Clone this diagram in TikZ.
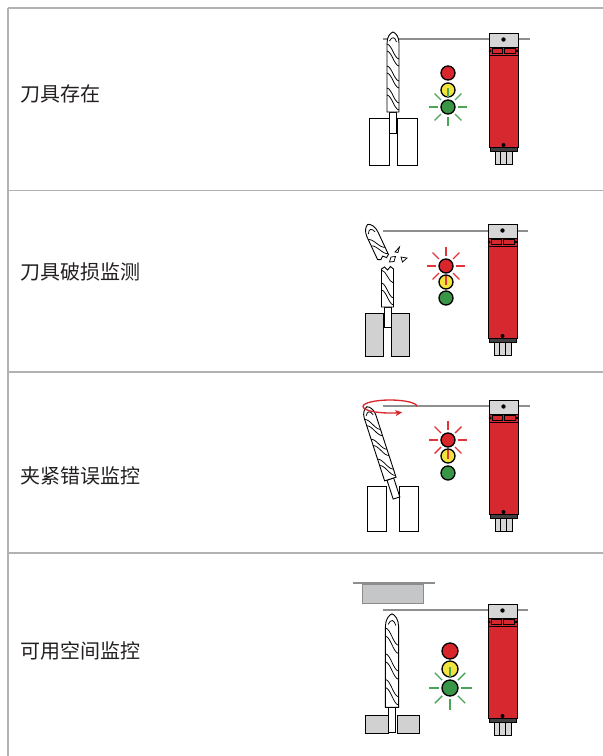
\documentclass[tikz,border=0pt]{standalone}
\usepackage{fontspec}
\newfontfamily\cjk{Noto Sans CJK SC}
\usetikzlibrary{arrows.meta}

\definecolor{ruleGray}{HTML}{B2B2B2}
\definecolor{railGray}{HTML}{8E8E8E}
\definecolor{capGray}{HTML}{D6D6D6}
\definecolor{blockGray}{HTML}{D1D1D1}
\definecolor{plateGray}{HTML}{C4C6C8}
\definecolor{bodyRed}{HTML}{D7282F}
\definecolor{lampRed}{HTML}{D8262C}
\definecolor{lampYellow}{HTML}{F3E43C}
\definecolor{lampGreen}{HTML}{3A9647}
\definecolor{glowGreen}{HTML}{4AA656}
\definecolor{glowRed}{HTML}{E2343B}
\definecolor{textDark}{HTML}{231F20}

\tikzset{
  rule/.style={draw=ruleGray, line width=1.6pt},
  rail/.style={draw=railGray, line width=1.3pt},
  edge/.style={draw=black, line width=0.9pt},
  fine/.style={draw=black, line width=0.75pt},
  rowlabel/.style={anchor=west, inner sep=0pt, text=textDark,
    font=\cjk\fontsize{20}{24}\selectfont},
  lamp/.style={circle, draw=black, line width=1.3pt, minimum size=#1, inner sep=0pt},
  lamp/.default=14pt,
  glow/.style={line width=1.4pt},
  holder/.style={draw=black, line width=0.9pt, fill=#1},
  holder/.default=white,
  % twist drill, origin at the shank end, pointing up
  pics/drill/.style={code={
    \draw[edge, fill=white] (-3.5,0) rectangle (3.5,-21);
    \draw[edge, fill=white] (-6,-21) -- (-6,-90)
      .. controls (-6,-96) and (-3,-100) .. (0,-101)
      .. controls (3,-100) and (6,-96) .. (6,-90) -- (6,-21) -- cycle;
    \foreach \k in {0,1,2} {
      \draw[fine] (-6,-38-22*\k) .. controls (-1,-37-22*\k) and (1,-24-22*\k) .. (6,-23-22*\k);
      \draw[fine] (-6,-45-22*\k) .. controls (-1,-44-22*\k) and (1,-31-22*\k) .. (6,-30-22*\k);
    }
    \draw[fine] (-3.5,-92) .. controls (-1,-97) and (2,-96) .. (3.5,-91);
  }},
  % light curtain sensor, origin at the top centre
  pics/sensor/.style={code={
    \draw[edge, fill=capGray] (-14.5,0) rectangle (14.5,14);
    \fill (0,6.5) circle (2.2);
    \draw[edge, fill=bodyRed] (-14.5,14) rectangle (14.5,22);
    \draw[fine] (-11.5,15.3) rectangle (-1,20.7);
    \draw[fine] (1,15.3) rectangle (11.5,20.7);
    \draw[fine] (-13.3,18) circle (1);
    \draw[fine] (13.3,18) circle (1);
    \draw[edge, fill=bodyRed] (-14.5,22) rectangle (14.5,114);
    \fill (0,112) circle (2);
    \draw[edge, fill=black!75] (-13.5,114) rectangle (13.5,118);
    \draw[edge, fill=capGray] (-8.5,118) rectangle (8.5,131);
    \draw[fine] (-2.8,118) -- (-2.8,131) (2.8,118) -- (2.8,131);
  }},
}

\begin{document}
\begin{tikzpicture}[x=1pt, y=-1pt]
\useasboundingbox (0,0) rectangle (603,756);

% ---------- table frame ----------
\draw[rule] (8,8) -- (8,756);
\foreach \yy in {8,190.5,372,553}
  \draw[rule] (8,\yy) -- (603,\yy);

% ---------- row labels ----------
\node[rowlabel] (lab1) at (20,94) {刀具存在};
\node[rowlabel] (lab2) at (20,272) {刀具破损监测};
\node[rowlabel] (lab3) at (20,476) {夹紧错误监控};
\node[rowlabel] (lab4) at (20,651) {可用空间监控};

% ---------- row 1: tool present ----------
\draw[rail] (383,39) -- (530,39);
\draw[holder] (369,118) rectangle (389,165);
\draw[holder] (397,118) rectangle (417,165);
\pic at (393,133) {drill};
\pic at (503.5,33) {sensor};
\node[lamp, fill=lampRed] (r1) at (448,73) {};
\node[lamp, fill=lampYellow] (y1) at (448,90) {};
\node[lamp, fill=lampGreen] (g1) at (448,107) {};
\foreach \a in {0,45,...,315}
  \draw[glow, glowGreen] (g1.center) ++(\a:10) -- ++(\a:9);

% ---------- row 2: tool breakage ----------
\draw[rail] (383,231) -- (528,231);
\draw[holder=blockGray] (365,313) rectangle (383,356);
\draw[holder=blockGray] (391,313) rectangle (409,356);
\begin{scope}[shift={(387.5,327)}]
  \draw[edge, fill=white] (-3.5,0) rectangle (3.5,-20);
  \draw[edge, fill=white] (-6,-20) -- (-6,-58) -- (-3,-60) -- (0,-57) -- (3,-60.5) -- (6,-58) -- (6,-20) -- cycle;
  \draw[fine] (-6,-37) .. controls (-1,-36) and (1,-23) .. (6,-22);
  \draw[fine] (-6,-44) .. controls (-1,-43) and (1,-30) .. (6,-29);
  \draw[fine] (-6,-57) .. controls (-1,-56) and (1,-45) .. (6,-44);
\end{scope}
\begin{scope}[shift={(383,257)}, rotate=25]
  \draw[edge, fill=white] (-6,0) -- (-3,1.5) -- (0,-1) -- (3,2) -- (6,0) -- (6,-25)
    .. controls (6,-31) and (3,-35) .. (0,-36)
    .. controls (-3,-35) and (-6,-31) .. (-6,-25) -- cycle;
  \draw[fine] (-6,-15) .. controls (-1,-14) and (1,-2) .. (6,-1);
  \draw[fine] (-6,-22) .. controls (-1,-21) and (1,-9) .. (6,-8);
  \draw[fine] (-3.5,-27) .. controls (-1,-32) and (2,-31) .. (3.5,-26);
\end{scope}
% chips
\draw[fine] (395,252) -- (399.5,247) -- (398,252.5) -- cycle;
\draw[fine] (389.5,262) -- (391,257) -- (395.5,256.5) -- (394,261.5) -- cycle;
\draw[fine] (401,257) -- (407,258) -- (402.5,262) -- cycle;
\pic at (502.5,224) {sensor};
\node[lamp, fill=lampRed] (r2) at (446,266) {};
\node[lamp, fill=lampYellow] (y2) at (446,282) {};
\node[lamp, fill=lampGreen] (g2) at (446,298) {};
\foreach \a in {0,45,...,315}
  \draw[glow, glowRed] (r2.center) ++(\a:10) -- ++(\a:9);

% ---------- row 3: clamping fault ----------
\draw[rail] (383,406) -- (530,406);
\draw[holder] (367,486) rectangle (386,531);
\draw[holder] (399,486) rectangle (418,531);
\pic[rotate=18, yscale=0.95] at (396.5,498) {drill};
\draw[lampRed, line width=1.3pt, -{Stealth[length=7pt, width=6pt]}]
  (417,406.5) arc[start angle=0, end angle=-297, x radius=27, y radius=6.5];
\pic at (503.5,400) {sensor};
\node[lamp, fill=lampRed] (r3) at (448,440) {};
\node[lamp, fill=lampYellow] (y3) at (448,456) {};
\node[lamp, fill=lampGreen] (g3) at (448,473) {};
\foreach \a in {0,45,...,315}
  \draw[glow, glowRed] (r3.center) ++(\a:10) -- ++(\a:9);

% ---------- row 4: free space ----------
\draw[draw=railGray, line width=1.2pt] (353,583) -- (435,583);
\draw[draw=black!45, line width=0.8pt, fill=plateGray] (362,584) rectangle (423,603);
\draw[rail] (383,610) -- (528,610);
\draw[holder=blockGray] (365,715) rectangle (388,733);
\draw[holder=blockGray] (397,715) rectangle (419,733);
\pic[xscale=1.1, yscale=1.17] at (392,732) {drill};
\pic at (502.5,604) {sensor};
\node[lamp=16pt, fill=lampRed] (r4) at (450,651) {};
\node[lamp=16pt, fill=lampYellow] (y4) at (450,669) {};
\node[lamp=16pt, fill=lampGreen] (g4) at (450,688) {};
\foreach \a in {0,45,...,315}
  \draw[glow, glowGreen] (g4.center) ++(\a:11) -- ++(\a:10.5);
\end{tikzpicture}
\end{document}
